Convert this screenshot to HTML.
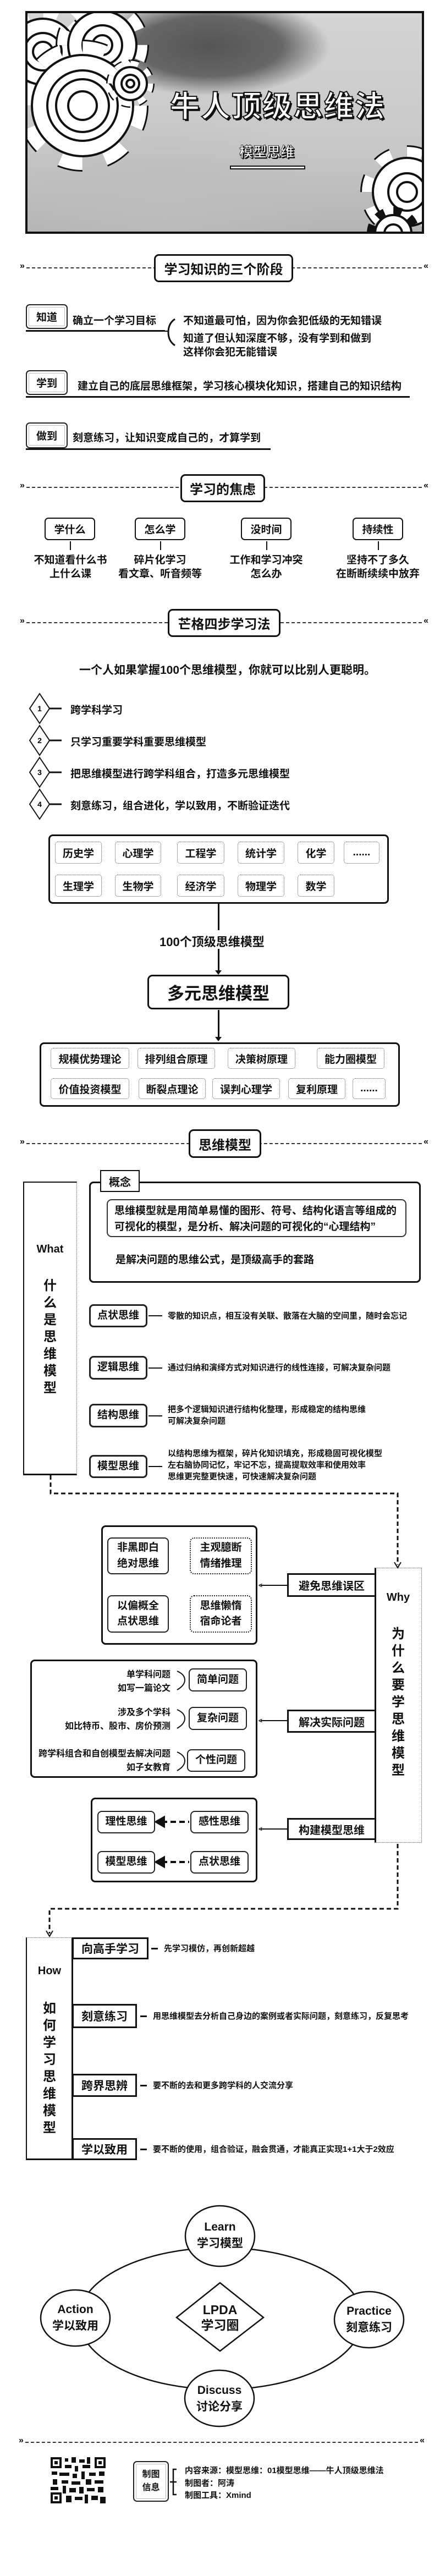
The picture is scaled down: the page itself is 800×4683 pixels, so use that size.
<!DOCTYPE html>
<html><head><meta charset="utf-8">
<style>
*{margin:0;padding:0;box-sizing:border-box}
body{width:800px;height:4683px;background:#fff;position:relative;overflow:hidden;font-family:"Liberation Sans","Noto Sans CJK SC",sans-serif;font-weight:bold;color:#111}
.a{position:absolute}
.c{display:flex;align-items:center;justify-content:center;text-align:center}
.dl{position:absolute;left:38px;width:739px;border-top:2px dashed #333;height:0}
.dl:before{content:"»";position:absolute;left:-2px;top:-13px;font-size:16px;background:#fff}
.dl:after{content:"«";position:absolute;right:-2px;top:-13px;font-size:16px;background:#fff}
.hb{position:absolute;background:#fff;border:3px solid #111;border-radius:9px;font-size:24px;display:flex;align-items:center;justify-content:center}
.tag{position:absolute;border:2px solid #222;border-radius:7px;font-size:19px;display:flex;align-items:center;justify-content:center;background:#fff;box-shadow:inset 0 0 0 3px #fff,inset 0 0 0 4px #bbb}
.t19{font-size:19px}
.ul{position:absolute;height:3px;background:#111}
.sb{position:absolute;border:1px dotted #555;border-radius:5px;font-size:19px;display:flex;align-items:center;justify-content:center}
.rb{position:absolute;border:3px solid #111;border-radius:8px;background:#fff}
.ib{position:absolute;border:2px solid #222;border-radius:8px;font-size:19px;display:flex;align-items:center;justify-content:center;text-align:center;line-height:1.5;background:#fff}
.t15{font-size:15px;line-height:21px}
.vt{position:absolute;font-size:24px;line-height:31px;width:30px;text-align:center}
.lb{position:absolute;border:3px solid #111;background:#fff;font-size:20px;display:flex;align-items:center;justify-content:center}
</style></head><body>

<!-- HEADER -->
<div class="a" style="left:46px;top:20px;width:725px;height:405px;border:4px solid #111;overflow:hidden;background:radial-gradient(ellipse 220px 90px at 330px 60px,#555 0%,#666 60%,rgba(120,120,120,0) 100%),radial-gradient(ellipse 300px 150px at 250px 330px,#bdbdbd,rgba(190,190,190,0)),linear-gradient(180deg,#d4d4d4 0%,#c8c8c8 60%,#b4b4b4 100%)">
<svg width="725" height="405" style="position:absolute;left:0;top:0">
<g fill="#fff" stroke="#111" stroke-width="4">
 <g transform="translate(28,70)"><circle r="70" fill="none" stroke="#111" stroke-width="26" stroke-dasharray="27.5 27.5"/><circle r="70" fill="none" stroke="#fff" stroke-width="20" stroke-dasharray="27.5 27.5"/><circle r="60"/><circle r="34"/><circle r="18"/></g>
 <g transform="translate(136,58)"><circle r="72" fill="none" stroke="#111" stroke-width="26" stroke-dasharray="28 28.5"/><circle r="72" fill="none" stroke="#fff" stroke-width="20" stroke-dasharray="28 28.5"/><circle r="62"/><circle r="36"/><circle r="18"/></g>
 <g transform="translate(100,168)"><circle r="105" fill="none" stroke="#111" stroke-width="30" stroke-dasharray="41 41.5"/><circle r="105" fill="none" stroke="#fff" stroke-width="24" stroke-dasharray="41 41.5"/><circle r="92"/><circle r="64"/><circle r="48"/><circle r="26"/></g>
 <g transform="translate(187,128)"><circle r="36" fill="none" stroke="#111" stroke-width="16" stroke-dasharray="14 14.3"/><circle r="36" fill="none" stroke="#fff" stroke-width="11" stroke-dasharray="14 14.3"/><circle r="30"/><circle r="16"/><circle r="7"/></g>
 <g transform="translate(690,325)"><circle r="72" fill="none" stroke="#111" stroke-width="26" stroke-dasharray="28 28.5"/><circle r="72" fill="none" stroke="#fff" stroke-width="20" stroke-dasharray="28 28.5"/><circle r="62"/><circle r="34"/><circle r="18"/></g>
 <g transform="translate(665,400)"><circle r="40" fill="none" stroke="#111" stroke-width="16" stroke-dasharray="15 16.4"/><circle r="33"/><circle r="16"/></g>
</g>
</svg>
<div class="a" style="left:245px;top:125px;width:420px;text-align:center;font-size:54px;color:#fff;-webkit-text-stroke:2px #111;text-shadow:3px 3px 0 #111;letter-spacing:2px">牛人顶级思维法</div>
<div class="a" style="left:375px;top:238px;width:120px;text-align:center;font-size:25px;line-height:30px;color:#fff;-webkit-text-stroke:0.8px #111;text-shadow:2px 2px 0 #111">模型思维</div>
<div class="a" style="left:368px;top:277px;width:137px;height:7px;background:#fff;border:2px solid #111"></div>
</div>

<!-- SECTION 1 -->
<div class="dl" style="top:486px"></div>
<div class="hb" style="left:280px;top:462px;width:253px;height:51px">学习知识的三个阶段</div>

<div class="tag" style="left:47px;top:553px;width:76px;height:45px">知道</div>
<div class="a t19" style="left:132px;top:568px">确立一个学习目标</div>
<div class="ul" style="left:47px;top:600px;width:253px"></div>
<svg class="a" style="left:300px;top:578px" width="30" height="52"><path d="M18 2 Q6 10 6 26 Q6 42 18 50" fill="none" stroke="#111" stroke-width="3"/><line x1="0" y1="24" x2="6" y2="24" stroke="#111" stroke-width="2"/></svg>
<div class="a t19" style="left:333px;top:568px">不知道最可怕，因为你会犯低级的无知错误</div>
<div class="a t19" style="left:333px;top:600px">知道了但认知深度不够，没有学到和做到</div>
<div class="a t19" style="left:333px;top:625px">这样你会犯无能错误</div>

<div class="tag" style="left:47px;top:673px;width:76px;height:45px">学到</div>
<div class="a t19" style="left:141px;top:687px">建立自己的底层思维框架，学习核心模块化知识，搭建自己的知识结构</div>
<div class="ul" style="left:47px;top:720px;width:698px"></div>

<div class="tag" style="left:47px;top:768px;width:76px;height:47px">做到</div>
<div class="a t19" style="left:132px;top:781px">刻意练习，让知识变成自己的，才算学到</div>
<div class="ul" style="left:47px;top:815px;width:445px"></div>

<!-- SECTION 2 -->
<div class="dl" style="top:885px"></div>
<div class="hb" style="left:328px;top:862px;width:154px;height:51px">学习的焦虑</div>

<div class="hb" style="left:81px;top:941px;width:92px;height:41px;font-size:19px;border-width:2px;border-radius:7px">学什么</div>
<div class="hb" style="left:245px;top:941px;width:92px;height:41px;font-size:19px;border-width:2px;border-radius:7px">怎么学</div>
<div class="hb" style="left:438px;top:941px;width:92px;height:41px;font-size:19px;border-width:2px;border-radius:7px">没时间</div>
<div class="hb" style="left:641px;top:941px;width:92px;height:41px;font-size:19px;border-width:2px;border-radius:7px">持续性</div>
<div class="a" style="left:127px;top:984px;width:2px;height:16px;background:#111"></div>
<div class="a" style="left:291px;top:984px;width:2px;height:16px;background:#111"></div>
<div class="a" style="left:484px;top:984px;width:2px;height:16px;background:#111"></div>
<div class="a" style="left:687px;top:984px;width:2px;height:16px;background:#111"></div>
<div class="a t19 c" style="left:38px;top:1006px;width:180px;line-height:25px;flex-direction:column">不知道看什么书<br>上什么课</div>
<div class="a t19 c" style="left:201px;top:1006px;width:180px;line-height:25px;flex-direction:column">碎片化学习<br>看文章、听音频等</div>
<div class="a t19 c" style="left:394px;top:1006px;width:180px;line-height:25px;flex-direction:column">工作和学习冲突<br>怎么办</div>
<div class="a t19 c" style="left:587px;top:1006px;width:200px;line-height:25px;flex-direction:column">坚持不了多久<br>在断断续续中放弃</div>

<!-- SECTION 3 -->
<div class="dl" style="top:1131px"></div>
<div class="hb" style="left:305px;top:1107px;width:205px;height:51px">芒格四步学习法</div>
<div class="a" style="left:144px;top:1202px;font-size:21px">一个人如果掌握100个思维模型，你就可以比别人更聪明。</div>

<svg class="a" style="left:50px;top:1258px" width="70" height="235">
<g fill="#fff" stroke="#111" stroke-width="2">
<polygon points="22,3 40,30 22,57 4,30"/><polygon points="22,61 40,88 22,115 4,88"/><polygon points="22,119 40,146 22,173 4,146"/><polygon points="22,177 40,204 22,231 4,204"/>
</g>
<g stroke="#111" stroke-width="3"><line x1="40" y1="30" x2="62" y2="30"/><line x1="40" y1="88" x2="62" y2="88"/><line x1="40" y1="146" x2="62" y2="146"/><line x1="40" y1="204" x2="62" y2="204"/></g>
<g font-size="14" text-anchor="middle" font-family="Liberation Sans" font-weight="bold"><text x="22" y="35">1</text><text x="22" y="93">2</text><text x="22" y="151">3</text><text x="22" y="209">4</text></g>
</svg>
<div class="a t19" style="left:128px;top:1276px">跨学科学习</div>
<div class="a t19" style="left:128px;top:1334px">只学习重要学科重要思维模型</div>
<div class="a t19" style="left:128px;top:1392px">把思维模型进行跨学科组合，打造多元思维模型</div>
<div class="a t19" style="left:128px;top:1450px">刻意练习，组合进化，学以致用，不断验证迭代</div>

<div class="rb" style="left:88px;top:1517px;width:619px;height:126px"></div>
<div class="sb" style="left:100px;top:1530px;width:85px;height:40px">历史学</div>
<div class="sb" style="left:209px;top:1530px;width:84px;height:40px">心理学</div>
<div class="sb" style="left:322px;top:1530px;width:86px;height:40px">工程学</div>
<div class="sb" style="left:432px;top:1530px;width:85px;height:40px">统计学</div>
<div class="sb" style="left:541px;top:1530px;width:67px;height:40px">化学</div>
<div class="sb" style="left:625px;top:1530px;width:65px;height:40px">......</div>
<div class="sb" style="left:100px;top:1590px;width:85px;height:40px">生理学</div>
<div class="sb" style="left:209px;top:1590px;width:84px;height:40px">生物学</div>
<div class="sb" style="left:322px;top:1590px;width:86px;height:40px">经济学</div>
<div class="sb" style="left:432px;top:1590px;width:85px;height:40px">物理学</div>
<div class="sb" style="left:541px;top:1590px;width:67px;height:40px">数学</div>
<div class="a" style="left:396px;top:1643px;width:3px;height:48px;background:#111"></div>
<div class="a" style="left:290px;top:1695px;font-size:22px">100个顶级思维模型</div>
<div class="a" style="left:396px;top:1725px;width:3px;height:44px;background:#111"></div>
<div class="a" style="left:391px;top:1764px;border-left:6px solid transparent;border-right:6px solid transparent;border-top:8px solid #111"></div>
<div class="hb" style="left:268px;top:1772px;width:258px;height:63px;font-size:31px">多元思维模型</div>
<div class="a" style="left:396px;top:1836px;width:3px;height:52px;background:#111"></div>
<div class="a" style="left:391px;top:1885px;border-left:6px solid transparent;border-right:6px solid transparent;border-top:8px solid #111"></div>

<div class="rb" style="left:72px;top:1895px;width:655px;height:117px"></div>
<div class="sb" style="left:92px;top:1905px;width:143px;height:38px">规模优势理论</div>
<div class="sb" style="left:250px;top:1905px;width:141px;height:38px">排列组合原理</div>
<div class="sb" style="left:414px;top:1905px;width:123px;height:38px">决策树原理</div>
<div class="sb" style="left:576px;top:1905px;width:123px;height:38px">能力圈模型</div>
<div class="sb" style="left:92px;top:1960px;width:143px;height:38px">价值投资模型</div>
<div class="sb" style="left:252px;top:1960px;width:122px;height:38px">断裂点理论</div>
<div class="sb" style="left:386px;top:1960px;width:123px;height:38px">误判心理学</div>
<div class="sb" style="left:524px;top:1960px;width:104px;height:38px">复利原理</div>
<div class="sb" style="left:641px;top:1960px;width:60px;height:38px">......</div>

<!-- SECTION 4 -->
<div class="dl" style="top:2078px"></div>
<div class="hb" style="left:343px;top:2053px;width:132px;height:52px">思维模型</div>

<!-- What column -->
<div class="a" style="left:42px;top:2148px;width:98px;height:534px;border:1px dotted #555;border-left:2px solid #111;border-top:2px solid #111;border-bottom:3px solid #111"></div>
<div class="a" style="left:42px;top:2260px;width:98px;text-align:center;font-size:20px">What</div>
<div class="vt" style="left:76px;top:2322px">什<br>么<br>是<br>思<br>维<br>模<br>型</div>

<div class="rb" style="left:162px;top:2148px;width:603px;height:184px"></div>
<div class="a c" style="left:182px;top:2127px;width:72px;height:40px;border:2px solid #111;background:#fff;font-size:20px">概念</div>
<div class="a" style="left:194px;top:2180px;width:545px;height:69px;border:2px solid #333;border-radius:9px;font-size:19px;line-height:29px;padding:5px 12px">思维模型就是用简单易懂的图形、符号、结构化语言等组成的<br>可视化的模型，是分析、解决问题的可视化的“心理结构”</div>
<div class="a t19" style="left:210px;top:2275px">是解决问题的思维公式，是顶级高手的套路</div>

<div class="ib" style="left:162px;top:2371px;width:106px;height:42px;border-width:3px">点状思维</div>
<div class="a" style="left:270px;top:2391px;width:25px;height:2px;background:#111"></div>
<div class="a t15" style="left:305px;top:2382px">零散的知识点，相互没有关联、散落在大脑的空间里，随时会忘记</div>
<div class="ib" style="left:162px;top:2465px;width:106px;height:43px;border-width:3px">逻辑思维</div>
<div class="a" style="left:270px;top:2486px;width:25px;height:2px;background:#111"></div>
<div class="a t15" style="left:305px;top:2476px">通过归纳和演绎方式对知识进行的线性连接，可解决复杂问题</div>
<div class="ib" style="left:162px;top:2552px;width:106px;height:43px;border-width:3px">结构思维</div>
<div class="a" style="left:270px;top:2573px;width:25px;height:2px;background:#111"></div>
<div class="a t15" style="left:305px;top:2552px">把多个逻辑知识进行结构化整理，形成稳定的结构思维<br>可解决复杂问题</div>
<div class="ib" style="left:162px;top:2645px;width:106px;height:42px;border-width:3px">模型思维</div>
<div class="a" style="left:270px;top:2665px;width:25px;height:2px;background:#111"></div>
<div class="a t15" style="left:305px;top:2632px">以结构思维为框架，碎片化知识填充，形成稳固可视化模型<br>左右脑协同记忆，牢记不忘，提高提取效率和使用效率<br>思维更完整更快速，可快速解决复杂问题</div>

<!-- dashed connector What->Why -->
<svg class="a" style="left:0;top:2682px" width="800" height="175">
<path d="M92 0 V33 H723 V163" fill="none" stroke="#111" stroke-width="3" stroke-dasharray="8 5"/>
<path d="M717 158 L723 168 L729 158" fill="none" stroke="#111" stroke-width="2"/>
</svg>

<!-- Why column -->
<div class="a" style="left:681px;top:2850px;width:86px;height:500px;border:1px dotted #555;border-left:3px solid #111"></div>
<div class="a" style="left:681px;top:2893px;width:86px;text-align:center;font-size:20px">Why</div>
<div class="vt" style="left:709px;top:2955px">为<br>什<br>么<br>要<br>学<br>思<br>维<br>模<br>型</div>

<div class="rb" style="left:184px;top:2773px;width:284px;height:217px"></div>
<div class="ib" style="left:195px;top:2795px;width:112px;height:67px">非黑即白<br>绝对思维</div>
<div class="ib" style="left:345px;top:2795px;width:113px;height:67px;border-style:dotted">主观臆断<br>情绪推理</div>
<div class="ib" style="left:195px;top:2900px;width:112px;height:68px">以偏概全<br>点状思维</div>
<div class="ib" style="left:345px;top:2900px;width:113px;height:68px;border-style:dotted">思维懒惰<br>宿命论者</div>
<div class="lb" style="left:522px;top:2860px;width:162px;height:43px">避免思维误区</div>
<div class="a" style="left:474px;top:2881px;width:48px;height:2px;background:#111"></div>
<div class="a" style="left:470px;top:2876px;font-size:12px;line-height:12px">&lt;</div>

<div class="rb" style="left:55px;top:3017px;width:413px;height:215px"></div>
<div class="ib" style="left:343px;top:3033px;width:106px;height:42px">简单问题</div>
<div class="a" style="left:150px;top:3032px;width:160px;text-align:right;font-size:16px;line-height:25px">单学科问题<br>如写一篇论文</div>
<div class="ib" style="left:343px;top:3103px;width:106px;height:42px">复杂问题</div>
<div class="a" style="left:90px;top:3101px;width:220px;text-align:right;font-size:16px;line-height:25px">涉及多个学科<br>如比特币、股市、房价预测</div>
<div class="ib" style="left:340px;top:3180px;width:106px;height:41px">个性问题</div>
<div class="a" style="left:60px;top:3176px;width:250px;text-align:right;font-size:16px;line-height:25px">跨学科组合和自创模型去解决问题<br>如子女教育</div>
<svg class="a" style="left:318px;top:3030px" width="24" height="200"><g fill="none" stroke="#111" stroke-width="2"><path d="M4 8 Q18 14 18 24 Q18 34 4 42"/><path d="M4 78 Q18 84 18 94 Q18 104 4 112"/><path d="M4 155 Q18 161 18 171 Q18 181 4 189"/></g></svg>
<div class="lb" style="left:522px;top:3108px;width:162px;height:42px">解决实际问题</div>
<div class="a" style="left:474px;top:3127px;width:48px;height:2px;background:#111"></div>
<div class="a" style="left:470px;top:3122px;font-size:12px;line-height:12px">&lt;</div>

<div class="rb" style="left:165px;top:3268px;width:303px;height:154px"></div>
<div class="ib" style="left:177px;top:3292px;width:105px;height:41px">理性思维</div>
<div class="ib" style="left:346px;top:3292px;width:106px;height:41px">感性思维</div>
<div class="ib" style="left:177px;top:3365px;width:105px;height:41px">模型思维</div>
<div class="ib" style="left:346px;top:3365px;width:106px;height:41px">点状思维</div>
<svg class="a" style="left:282px;top:3300px" width="64" height="100"><g stroke="#111" stroke-width="4" fill="#111"><line x1="12" y1="12" x2="62" y2="12" stroke-dasharray="10 6"/><polygon points="2,12 16,4 16,20"/><line x1="12" y1="85" x2="62" y2="85" stroke-dasharray="10 6"/><polygon points="2,85 16,77 16,93"/></g></svg>
<div class="lb" style="left:522px;top:3305px;width:162px;height:40px">构建模型思维</div>
<div class="a" style="left:474px;top:3324px;width:48px;height:2px;background:#111"></div>
<div class="a" style="left:470px;top:3319px;font-size:12px;line-height:12px">&lt;</div>

<!-- dashed connector Why->How -->
<svg class="a" style="left:0;top:3350px" width="800" height="175">
<path d="M723 2 V120 H90 V165" fill="none" stroke="#111" stroke-width="3" stroke-dasharray="8 5"/>
<path d="M84 160 L90 170 L96 160" fill="none" stroke="#111" stroke-width="2"/>
</svg>

<!-- How column -->
<div class="a" style="left:47px;top:3522px;width:86px;height:405px;border:1px dotted #555;border-left:2px solid #111;border-bottom:3px solid #111;border-right:3px solid #111"></div>
<div class="a" style="left:47px;top:3572px;width:86px;text-align:center;font-size:20px">How</div>
<div class="vt" style="left:75px;top:3636px">如<br>何<br>学<br>习<br>思<br>维<br>模<br>型</div>
<div class="lb" style="left:131px;top:3522px;width:139px;height:40px;font-size:21px">向高手学习</div>
<div class="a" style="left:275px;top:3541px;width:12px;height:3px;background:#111"></div>
<div class="a t15" style="left:298px;top:3532px">先学习模仿，再创新超越</div>
<div class="lb" style="left:131px;top:3643px;width:118px;height:44px;font-size:21px">刻意练习</div>
<div class="a" style="left:255px;top:3664px;width:12px;height:3px;background:#111"></div>
<div class="a t15" style="left:278px;top:3655px">用思维模型去分析自己身边的案例或者实际问题，刻意练习，反复思考</div>
<div class="lb" style="left:131px;top:3770px;width:118px;height:42px;font-size:21px">跨界思辨</div>
<div class="a" style="left:255px;top:3790px;width:12px;height:3px;background:#111"></div>
<div class="a t15" style="left:278px;top:3781px">要不断的去和更多跨学科的人交流分享</div>
<div class="lb" style="left:131px;top:3887px;width:118px;height:40px;font-size:21px">学以致用</div>
<div class="a" style="left:255px;top:3906px;width:12px;height:3px;background:#111"></div>
<div class="a t15" style="left:278px;top:3897px">要不断的使用，组合验证，融会贯通，才能真正实现1+1大于2效应</div>

<!-- LPDA -->
<svg class="a" style="left:0;top:3990px" width="800" height="440">
<g fill="none" stroke="#111" stroke-width="2.5">
<ellipse cx="401" cy="225" rx="258" ry="129"/>
</g>
<g fill="#fff" stroke="#111" stroke-width="2.5">
<ellipse cx="400" cy="75" rx="63" ry="55"/>
<ellipse cx="137" cy="224" rx="63" ry="51"/>
<ellipse cx="671" cy="227" rx="63" ry="51"/>
<ellipse cx="399" cy="370" rx="63" ry="51"/>
<polygon points="400,160 479,223 400,284 321,223"/>
</g>
<g font-family="Liberation Sans, Noto Sans CJK SC, sans-serif" font-weight="bold" font-size="21" text-anchor="middle" fill="#111">
<text x="400" y="65">Learn</text><text x="400" y="95">学习模型</text>
<text x="137" y="215">Action</text><text x="137" y="245">学以致用</text>
<text x="671" y="218">Practice</text><text x="671" y="248">刻意练习</text>
<text x="399" y="362">Discuss</text><text x="399" y="392">讨论分享</text>
<text x="400" y="217" font-size="23">LPDA</text><text x="400" y="245" font-size="23">学习圈</text>
</g>
</svg>

<!-- footer -->
<div class="dl" style="top:4439px;left:36px;width:734px"></div>
<svg class="a" style="left:92px;top:4467px" width="100" height="84">
<rect width="100" height="84" fill="#fff"/>
<g fill="#111">
<rect x="0" y="0" width="20" height="20"/><rect x="80" y="0" width="20" height="20"/><rect x="0" y="64" width="20" height="20"/>
<rect x="26" y="2" width="6" height="6"/><rect x="38" y="0" width="8" height="10"/><rect x="52" y="4" width="10" height="6"/><rect x="66" y="0" width="6" height="12"/>
<rect x="26" y="14" width="12" height="6"/><rect x="44" y="16" width="6" height="10"/><rect x="58" y="14" width="14" height="6"/>
<rect x="2" y="26" width="10" height="6"/><rect x="16" y="28" width="18" height="6"/><rect x="40" y="30" width="8" height="8"/><rect x="56" y="26" width="6" height="14"/><rect x="70" y="28" width="12" height="6"/><rect x="88" y="26" width="10" height="8"/>
<rect x="4" y="40" width="8" height="10"/><rect x="20" y="42" width="12" height="6"/><rect x="38" y="44" width="16" height="6"/><rect x="64" y="40" width="10" height="10"/><rect x="80" y="42" width="16" height="6"/>
<rect x="0" y="54" width="14" height="6"/><rect x="22" y="52" width="6" height="14"/><rect x="34" y="56" width="12" height="8"/><rect x="52" y="54" width="8" height="12"/><rect x="66" y="56" width="14" height="6"/><rect x="86" y="54" width="10" height="10"/>
<rect x="28" y="70" width="10" height="12"/><rect x="44" y="72" width="14" height="6"/><rect x="62" y="68" width="6" height="16"/><rect x="74" y="70" width="12" height="8"/><rect x="90" y="72" width="10" height="12"/>
</g>
<g fill="#fff"><rect x="4" y="4" width="12" height="12"/><rect x="84" y="4" width="12" height="12"/><rect x="4" y="68" width="12" height="12"/></g>
<g fill="#111"><rect x="7" y="7" width="6" height="6"/><rect x="87" y="7" width="6" height="6"/><rect x="7" y="71" width="6" height="6"/></g>
</svg>
<div class="tag" style="left:242px;top:4474px;width:65px;height:74px;font-size:16px;line-height:24px;text-align:center">制图<br>信息</div>
<svg class="a" style="left:307px;top:4484px" width="20" height="56"><path d="M2 28 H8 M14 5 H8 V51 H14 M8 28 H14" fill="none" stroke="#111" stroke-width="2.5"/></svg>
<div class="a" style="left:336px;top:4480px;font-size:15px">内容来源：模型思维：01模型思维——牛人顶级思维法</div>
<div class="a" style="left:336px;top:4503px;font-size:15px">制图者：阿涛</div>
<div class="a" style="left:336px;top:4525px;font-size:15px">制图工具：Xmind</div>

</body></html>
